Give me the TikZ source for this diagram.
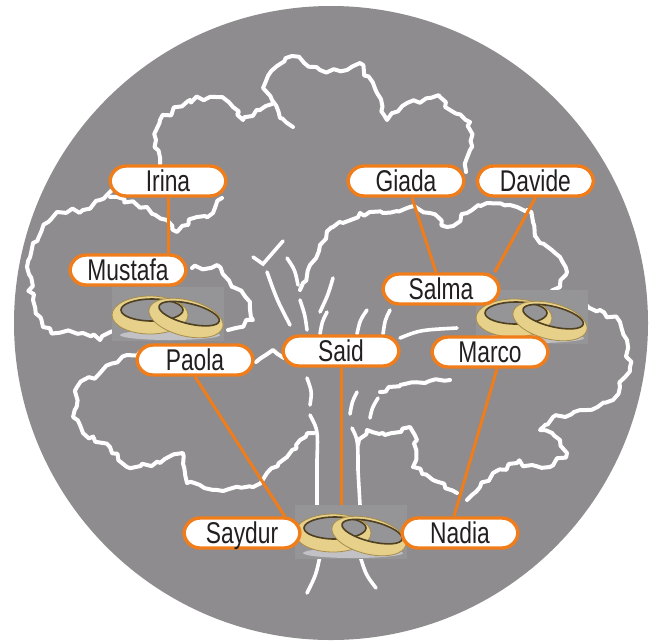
\documentclass[tikz,border=0pt]{standalone}
\usepackage{fontspec}
\newfontfamily\namefont[FakeStretch=0.76]{Liberation Sans}
\usepackage{tikz}
\usetikzlibrary{positioning}
\usetikzlibrary{decorations.pathmorphing}
\usepackage{color}

\definecolor{discgray}{HTML}{8E8C8E}
\definecolor{tagorange}{HTML}{F07D1A}
\definecolor{inkgray}{HTML}{231F20}
\definecolor{ringgold}{HTML}{E6D08A}
\definecolor{ringdark}{HTML}{4E4020}
\definecolor{ringmid}{HTML}{A88E4C}
\definecolor{ringback}{HTML}{959497}
\definecolor{ringshade}{HTML}{C2C2C6}

\pgfdeclarelayer{background}
\pgfsetlayers{background,main}

\tikzset{
  rings/.pic={
    \fill[ringback] (-56,-27) rectangle (56,27);
    \fill[ringshade] (2,21) ellipse (50 and 5);
    % left ring
    \fill[ringgold,even odd rule] (-18,1) ellipse (38 and 19) (-16,-4) ellipse (31 and 11);
    \draw[ringdark,line width=1.6pt] (-16,-4) ellipse (31 and 11);
    \draw[ringmid,line width=0.8pt] (-18,1) ellipse (38 and 19);
    % right ring
    \begin{scope}[rotate around={-14:(18,4)}]
      \fill[ringgold,even odd rule] (18,4) ellipse (38 and 18) (20,-1) ellipse (31 and 10);
      \draw[ringdark,line width=1.6pt] (20,-1) ellipse (31 and 10);
      \draw[ringmid,line width=0.8pt] (18,4) ellipse (38 and 18);
    \end{scope}
  }
}

\begin{document}
\begin{tikzpicture}[x=1pt,y=-1pt,
  person/.style={draw=tagorange, line width=3.4pt, fill=white, rounded corners=16pt,
    minimum width=116pt, minimum height=30pt, inner sep=0pt, text=inkgray,
    text height=21pt, text depth=0pt, font=\namefont\fontsize{30}{30}\selectfont},
  link/.style={draw=tagorange, line width=3pt},
  crown/.style={draw=white, line width=4pt, line join=round, line cap=round,
    decorate, decoration={random steps, segment length=6pt, amplitude=3pt}},
  branch/.style={draw=white, line width=3.6pt, line cap=round}]

\useasboundingbox (0,0) rectangle (655,641);

% names
\node[person] (Irina) at (168,181) {Irina};
\node[person] (Mustafa) at (128,270) {Mustafa};
\node[person] (Giada) at (406,181) {Giada};
\node[person, right=10pt of Giada] (Davide) {Davide};
\node[person] (Salma) at (441,289) {Salma};
\node[person] (Paola) at (195,360) {Paola};
\node[person] (Said) at (341,351) {Said};
\node[person] (Marco) at (490,352) {Marco};
\node[person] (Saydur) at (242,533) {Saydur};
\node[person] (Nadia) at (460,533) {Nadia};

\coordinate (ringsA) at (168,314);
\coordinate (ringsB) at (532,317);
\coordinate (ringsC) at (351,532);

\begin{pgfonlayer}{background}
\pgfmathsetseed{11}
\fill[discgray] (331,323) circle (317);

% tree crown
\draw[crown] (293,127) -- (280,118) -- (272,100) -- (263,88) -- (277,66) -- (292,56) -- (320,70) -- (347,70) -- (360,63) -- (377,93) -- (387,120) -- (407,103) -- (440,97) -- (450,110) -- (470,122) -- (470,150) -- (466,172);
\draw[crown] (272,104) -- (243,120) -- (233,107) -- (217,97) -- (190,100) -- (160,120) -- (156,140) -- (160,165);
\draw[crown] (112,190) -- (100,200) -- (83,210) -- (57,212) -- (33,243) -- (27,267) -- (33,300) -- (43,327) -- (57,333) -- (83,333) -- (100,340) -- (118,330);
\draw[crown] (110,197) -- (147,207) -- (167,220) -- (177,232) -- (197,217) -- (213,213) -- (222,198);
\draw[crown] (192,268) -- (217,265) -- (233,287) -- (250,302) -- (253,320) -- (228,330);
\draw[crown] (140,352) -- (127,355) -- (100,373) -- (77,387) -- (73,417) -- (83,433) -- (110,447) -- (127,467) -- (160,463) -- (183,453) -- (187,483) -- (217,490) -- (253,487) -- (267,473) -- (287,457) -- (300,440) -- (314,433);
\draw[crown] (256,362) -- (273,350) -- (284,358);
\draw[crown] (300,290) -- (310,265) -- (320,245) -- (333,227) -- (360,213) -- (383,213) -- (410,207) -- (430,213) -- (447,227) -- (467,213) -- (487,203) -- (510,205) -- (527,212);
\draw[crown] (527,210) -- (533,222) -- (540,243) -- (560,257) -- (567,272) -- (560,287) -- (550,295);
\draw[crown] (580,300) -- (600,310) -- (620,322) -- (627,340) -- (630,367) -- (620,387) -- (613,400) -- (587,410) -- (553,417) -- (540,430) -- (560,440) -- (567,453) -- (550,467) -- (517,463) -- (493,473) -- (480,487) -- (467,500);
\draw[crown] (457,493) -- (433,480) -- (413,467) -- (417,440) -- (410,427) -- (383,433) -- (367,430) -- (358,445);
\draw[crown] (380,392) -- (400,385) -- (425,383) -- (450,380);

% branches and trunk
\draw[branch] (253,257) -- (263,264) -- (283,241);
\draw[branch] (267,272) .. controls (277,300) .. (290,325);
\draw[branch] (287,258) .. controls (295,270) .. (298,285);
\draw[branch] (300,300) .. controls (305,315) .. (307,330);
\draw[branch] (320,312) .. controls (328,295) .. (333,278);
\draw[branch] (327,312) .. controls (322,322) .. (320,334);
\draw[branch] (367,310) .. controls (360,320) .. (357,334);
\draw[branch] (390,310) .. controls (385,320) .. (383,334);
\draw[branch] (457,328) .. controls (420,330) .. (400,338);
\draw[branch] (307,378) .. controls (312,392) .. (310,405);
\draw[branch] (357,392) .. controls (352,402) .. (350,414);
\draw[branch] (378,398) .. controls (372,408) .. (370,418);
\draw[branch] (310,415) .. controls (318,430) .. (317,460) -- (317,505);
\draw[branch] (352,428) .. controls (358,440) .. (358,470) -- (360,505);
\draw[branch] (320,556) .. controls (316,575) .. (307,593);
\draw[branch] (360,556) .. controls (366,575) .. (376,588);

% links
\draw[link] (Irina.south) -- (Irina.south |- Mustafa.north);
\draw[link] ([xshift=6pt]Giada.south) -- ([xshift=-5pt]Salma.north);
\draw[link] (Davide.south) -- ([xshift=-6pt]Salma.north east);
\draw[link] (Paola.south) -- ([xshift=-17pt]Saydur.north east);
\draw[link] (Said.south) -- (Said.south |- ringsC);
\draw[link] ([xshift=7pt]Marco.south) -- ([xshift=-6pt]Nadia.north);

\pic at (ringsA) {rings};
\pic at (ringsB) {rings};
\pic at (ringsC) {rings};
\end{pgfonlayer}

\end{tikzpicture}
\end{document}
